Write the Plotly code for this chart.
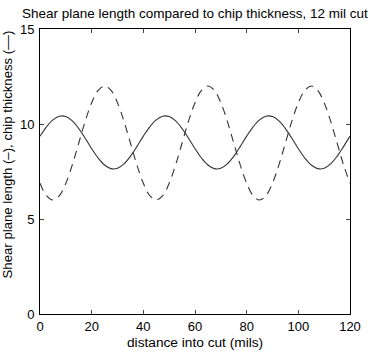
import plotly.graph_objects as go

# distance into cut (mils), sampled every 2.5 mils
distance = [i * 2.5 for i in range(49)]

# shear plane length (solid)
shear_one_period = [9.36, 9.85, 10.22, 10.41, 10.39, 10.16, 9.76, 9.25,
                    8.70, 8.21, 7.84, 7.65, 7.67, 7.90, 8.30, 8.81]
shear_length = (shear_one_period * 4)[:49]

# chip thickness (dashed)
chip_one_period = [6.88, 6.23, 6.00, 6.23, 6.88, 7.85, 9.00, 10.15,
                   11.12, 11.77, 12.00, 11.77, 11.12, 10.15, 9.00, 7.85]
chip_thickness = (chip_one_period * 4)[:49]

x_ticks = [0, 20, 40, 60, 80, 100, 120]
y_ticks = [0, 5, 10, 15]

font = dict(family="Liberation Sans, Arial, sans-serif", size=13, color="black")

fig = go.Figure()
fig.add_trace(go.Scatter(x=distance, y=shear_length, mode="lines",
                         line=dict(color="#333333", width=1.1, shape="spline"),
                         name="shear plane length"))
fig.add_trace(go.Scatter(x=distance, y=chip_thickness, mode="lines",
                         line=dict(color="#333333", width=1.1, shape="spline", dash="8px,6px"),
                         name="chip thickness"))

fig.update_layout(
    width=377, height=352,
    margin=dict(l=40, r=27, t=29, b=38),
    plot_bgcolor="white", paper_bgcolor="white",
    font=font,
    showlegend=False,
    title=dict(text="Shear plane length compared to chip thickness, 12 mil cut",
               x=0.517, xanchor="center", y=0.963, yanchor="middle",
               font=dict(size=13.5)),
)

fig.update_xaxes(range=[0, 120], tickvals=x_ticks, ticks="inside", ticklen=4,
                 showline=True, linecolor="black", linewidth=1, mirror="ticks",
                 showgrid=False, zeroline=False, ticklabelstandoff=0)
fig.update_yaxes(range=[0, 15], tickvals=y_ticks, ticks="inside", ticklen=4,
                 showline=True, linecolor="black", linewidth=1, mirror="ticks",
                 showgrid=False, zeroline=False, ticklabelstandoff=2)

# axis labels placed as annotations to sit where the reference puts them
fig.add_annotation(text="distance into cut (mils)",
                   xref="paper", yref="paper", x=0.5, y=-0.099,
                   xanchor="center", yanchor="middle",
                   showarrow=False, font=dict(size=13.7))
fig.add_annotation(text="Shear plane length (–), chip thickness (––)",
                   xref="paper", yref="paper", x=-0.104, y=0.559,
                   xanchor="center", yanchor="middle", textangle=-90,
                   showarrow=False, font=dict(size=13.2))

# the page body has a default 8px margin; drop it so the figure fills the window
fig.write_html("out.html", config={"displayModeBar": False},
               post_script="document.body.style.margin = '0';")
